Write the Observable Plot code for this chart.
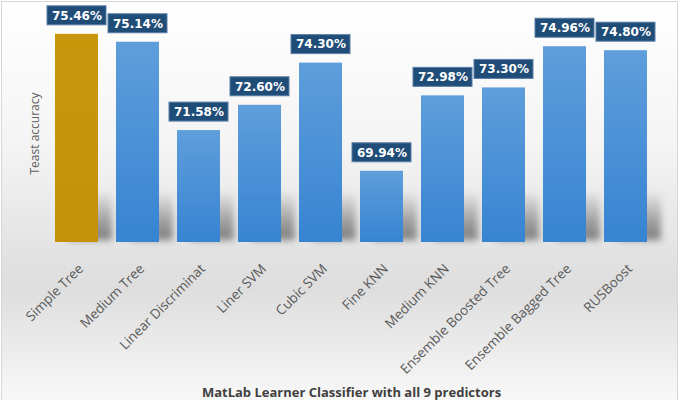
<!DOCTYPE html>
<html>
<head>
<meta charset="utf-8">
<script src="https://cdn.jsdelivr.net/npm/d3@7"></script>
<script src="https://cdn.jsdelivr.net/npm/@observablehq/plot@0.6"></script>
<style>
  html, body { margin: 0; padding: 0; background: #fff; }
  #wrap { position: relative; width: 687px; height: 400px; overflow: hidden; }
  #frame { position: absolute; left: 1px; top: 1px; width: 675px; height: 410px;
    border: 1px solid #d6d6d6;
    background: linear-gradient(to bottom, #ffffff 0%, #f4f4f4 35%, #e2e2e2 62%, #dedede 70%, #ececec 85%, #fbfbfb 100%); }
  #chart { position: absolute; left: 0; top: 0; }
</style>
</head>
<body>
<div id="wrap"><div id="frame"></div><div id="chart"></div></div>
<script>
// ---- data ----
const classifiers = ["Simple Tree", "Medium Tree", "Linear Discriminat", "Liner SVM", "Cubic SVM",
  "Fine KNN", "Medium KNN", "Ensemble Boosted Tree", "Ensemble Bagged Tree", "RUSBoost"];
const accuracy = [75.46, 75.14, 71.58, 72.60, 74.30, 69.94, 72.98, 73.30, 74.96, 74.80];
const highlighted = ["Simple Tree"];
const yTitle = "Teast accuracy";
const xTitle = "MatLab Learner Classifier with all 9 predictors";

const data = classifiers.map((name, i) => ({
  name, acc: accuracy[i], label: accuracy[i].toFixed(2) + "%", hi: highlighted.includes(name)
}));

const yMin = 67.07, yMax = 76.42;

const defs = () => {
  const d = d3.create("svg:defs");
  const b = d.append("linearGradient").attr("id", "blueGrad").attr("x1", 0).attr("y1", 0).attr("x2", 0).attr("y2", 1);
  b.append("stop").attr("offset", "0%").attr("stop-color", "#5e9edb");
  b.append("stop").attr("offset", "100%").attr("stop-color", "#3784d2");
  const g = d.append("linearGradient").attr("id", "goldGrad").attr("x1", 0).attr("y1", 0).attr("x2", 0).attr("y2", 1);
  g.append("stop").attr("offset", "0%").attr("stop-color", "#c9970c");
  g.append("stop").attr("offset", "100%").attr("stop-color", "#c49209");
  const s = d.append("linearGradient").attr("id", "shadowGrad").attr("x1", 0).attr("y1", 0).attr("x2", 0).attr("y2", 1);
  s.append("stop").attr("offset", "0%").attr("stop-color", "#000").attr("stop-opacity", 0);
  s.append("stop").attr("offset", "60%").attr("stop-color", "#000").attr("stop-opacity", 0.3);
  s.append("stop").attr("offset", "100%").attr("stop-color", "#000").attr("stop-opacity", 0.45);
  const f = d.append("filter").attr("id", "blur").attr("x", "-50%").attr("y", "-50%").attr("width", "200%").attr("height", "200%");
  f.append("feGaussianBlur").attr("stdDeviation", 3.5);
  return d.node();
};

const chart = Plot.plot({
  width: 687,
  height: 400,
  marginLeft: 45,
  marginRight: 30,
  marginTop: 10,
  marginBottom: 158,
  style: { background: "transparent", overflow: "visible" },
  x: { type: "band", domain: classifiers, paddingInner: 0.3, paddingOuter: 0.15, axis: null },
  y: { domain: [yMin, yMax], axis: null },
  marks: [
    defs,
    // soft floor shadow
    Plot.barY(data, {
      x: "name", y1: yMin, y2: d => Math.min(d.acc, yMin + 2.0),
      fill: "url(#shadowGrad)", dx: 10, dy: -2, insetLeft: 4, insetRight: -4,
      render: (i, s, v, d, c, next) => { const g = next(i, s, v, d, c); g.setAttribute("filter", "url(#blur)"); return g; }
    }),
    Plot.barY(data, { filter: d => d.hi, x: "name", y1: yMin, y2: "acc", fill: "url(#goldGrad)" }),
    Plot.barY(data, { filter: d => !d.hi, x: "name", y1: yMin, y2: "acc", fill: "url(#blueGrad)" }),
    // value label boxes
    Plot.barY(data, {
      x: "name", y1: "acc", y2: "acc",
      insetTop: -28, insetBottom: 9, insetLeft: -8, insetRight: -8,
      fill: "#1f4d78", stroke: "#5a7fa6", strokeWidth: 1
    }),
    Plot.text(data, {
      x: "name", y: "acc", text: "label", dy: -18.5,
      fill: "#ffffff", fontSize: 12, fontWeight: "bold", fontFamily: "DejaVu Sans"
    }),
    // category labels
    Plot.text(data, {
      x: "name", frameAnchor: "bottom", lineAnchor: "middle", text: "name", rotate: -45, textAnchor: "end",
      dx: 4, dy: 24, fill: "#5a5a5a", fontSize: 13.5, fontFamily: "Open Sans", letterSpacing: "0.3px"
    }),
    // axis titles
    Plot.text([yTitle], {
      frameAnchor: "left", textAnchor: "middle", lineAnchor: "middle", text: d => d, rotate: -90, dx: -10, dy: 7,
      fill: "#606060", fontSize: 12, fontFamily: "Open Sans", letterSpacing: "0.8px"
    }),
    Plot.text([xTitle], {
      frameAnchor: "bottom", lineAnchor: "middle", text: d => d, dy: 150,
      fill: "#404040", fontSize: 13, fontWeight: "bold", fontFamily: "Open Sans"
    })
  ]
});
document.getElementById("chart").appendChild(chart);
</script>
</body>
</html>
